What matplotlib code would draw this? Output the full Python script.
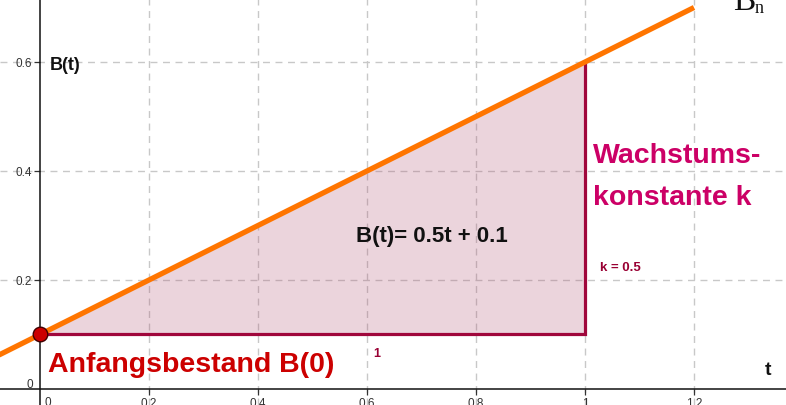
import matplotlib
matplotlib.use("Agg")
import matplotlib.pyplot as plt

# ---- data ----
line_t = [-0.1, 1.2]
line_B = [0.05, 0.7]
tri_t = [0.0, 1.0, 1.0]
tri_B = [0.1, 0.6, 0.1]
start_point = (0.0, 0.1)
x_ticks = [0.2, 0.4, 0.6, 0.8, 1.0, 1.2]
x_labels = ["0.2", "0.4", "0.6", "0.8", "1", "1.2"]
y_ticks = [0.2, 0.4, 0.6]
y_labels = ["0.2", "0.4", "0.6"]

plt.rcParams['font.family'] = ['Liberation Sans', 'DejaVu Sans']

fig = plt.figure(figsize=(7.86, 4.06), dpi=100)
ax = fig.add_axes([0, 0, 1, 1])
ax.set_xlim(-0.0734, 1.3688)
ax.set_ylim(-0.0294, 0.7156)

for s in ['top', 'right']:
    ax.spines[s].set_visible(False)
ax.spines['left'].set_position(('data', 0))
ax.spines['bottom'].set_position(('data', 0))
for s in ['left', 'bottom']:
    ax.spines[s].set_linewidth(1.1)
    ax.spines[s].set_color('#111111')

ax.set_xticks(x_ticks)
ax.set_xticklabels(x_labels)
ax.set_yticks(y_ticks)
ax.set_yticklabels(y_labels)
ax.tick_params(axis='both', direction='out', length=4, width=0.9, color='#333333',
               labelsize=8.5, labelcolor='#333333', pad=2)
ax.grid(True, color='#c8c8c8', linestyle=(0, (5, 4)), linewidth=1.0)
ax.set_axisbelow(True)

# filled slope triangle
ax.fill(tri_t, tri_B, color='#b35777', alpha=0.25, lw=0, zorder=2)
ax.plot([tri_t[0], tri_t[2], tri_t[1]], [tri_B[0], tri_B[2], tri_B[1]],
        color='#a0073c', lw=2.3, zorder=3, solid_joinstyle='miter')

# function line
ax.plot(line_t, line_B, color='#ff7500', lw=3.8, zorder=4, solid_capstyle='butt')

# start point
ax.plot([start_point[0]], [start_point[1]], 'o', ms=10.5, mfc='#cc0000',
        mec='#400000', mew=1.0, zorder=5)

# texts
ax.text(0.0183, 0.587, "B(t)", fontsize=13, fontweight='bold', color='#111111',
        ha='left', va='baseline')
ax.text(0.5798, 0.272, "B(t)= 0.5t + 0.1", fontsize=16, fontweight='bold',
        color='#111111', ha='left', va='baseline')
ax.text(0.0147, 0.033, "Anfangsbestand B(0)", fontsize=20.5, fontweight='bold',
        color='#cc0000', ha='left', va='baseline')
ax.text(1.0147, 0.4165, "Wachstums-", fontsize=20.5, fontweight='bold',
        color='#cc0066', ha='left', va='baseline')
ax.text(1.0147, 0.3394, "konstante k", fontsize=20.5, fontweight='bold',
        color='#cc0066', ha='left', va='baseline')
ax.text(1.0275, 0.2183, "k = 0.5", fontsize=9.5, fontweight='bold',
        color='#990033', ha='left', va='baseline')
ax.text(0.611, 0.0606, "1", fontsize=9, fontweight='bold',
        color='#990033', ha='left', va='baseline')
ax.text(1.330, 0.0275, "t", fontsize=14, fontweight='bold',
        color='#111111', ha='left', va='baseline')
ax.text(-0.018, 0.004, "0", fontsize=8.5, color='#333333', ha='center', va='baseline')
ax.text(0.0147, -0.0285, "0", fontsize=8.5, color='#333333', ha='center', va='baseline')
ax.text(1.2716, 0.697, "B", fontsize=24, family='Liberation Serif',
        color='#111111', ha='left', va='baseline', clip_on=False)
ax.text(1.312, 0.692, "n", fontsize=13, family='Liberation Serif',
        color='#111111', ha='left', va='baseline', clip_on=False)

fig.savefig("out.png", dpi=100)
